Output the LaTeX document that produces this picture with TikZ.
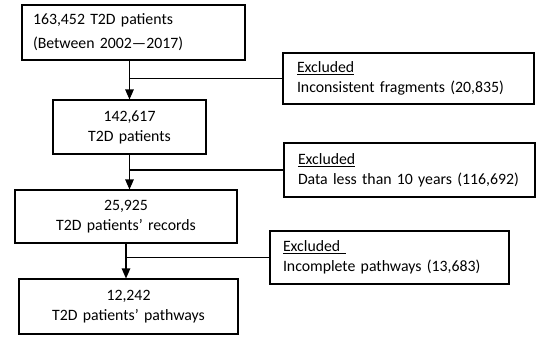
\documentclass[tikz,border=0pt]{standalone}
\usepackage{fontspec}
\setmainfont{Carlito}
\usepackage{tikz}
\usetikzlibrary{positioning,arrows.meta}
\tikzset{
  box/.style={draw, line width=1.1pt, align=center, inner xsep=11pt, inner ysep=0pt,
              font=\fontsize{15.8}{20}\selectfont},
  xbox/.style={box, align=left, inner xsep=14pt},
  arr/.style={-{Triangle[length=10pt, width=8.5pt]}, line width=1.1pt},
  lnk/.style={line width=1.1pt},
}

\begin{document}
\begin{tikzpicture}[x=1pt, y=-1pt]
  \useasboundingbox (0,0) rectangle (550,341);

  % main flow
  \node[box, align=left, text width=201pt, minimum height=55pt,
        font=\fontsize{15.8}{24}\selectfont] (start) at (133.5,32.5)
      {163,452 T2D patients\\(Between 2002—2017)};
  \node[box, text width=131pt, minimum height=54pt] (clean) at (129.5,127)
      {142,617\\T2D patients};
  \node[box, text width=200pt, minimum height=53pt] (records) at (126,216.5)
      {25,925\\T2D patients’ records};
  \node[box, text width=197pt, minimum height=55pt] (paths) at (128.5,306.5)
      {12,242\\T2D patients’ pathways};

  % exclusions
  \node[xbox, text width=223pt, minimum height=51pt] (exfrag) at (408.5,78.5)
      {\underline{Excluded}\\Inconsistent fragments (20,835)};
  \node[xbox, text width=223pt, minimum height=54pt] (exshort) at (409.5,170)
      {\underline{Excluded}\\Data less than 10 years (116,692)};
  \node[xbox, inner xsep=13pt, text width=213pt, minimum height=53pt] (exincomp) at (389.5,257.5)
      {\underline{Excluded\ }\\Incomplete pathways (13,683)};

  \draw[arr] (start.south -| clean.north) -- (clean.north);
  \draw[arr] (clean.south) -- (clean.south |- records.north);
  \draw[arr] (records.south) -- (records.south |- paths.north);
  \draw[lnk] (clean.north |- exfrag.west) -- (exfrag.west);
  \draw[lnk] (clean.south |- exshort.west) -- (exshort.west);
  \draw[lnk] (records.south |- exincomp.west) -- (exincomp.west);
\end{tikzpicture}
\end{document}
